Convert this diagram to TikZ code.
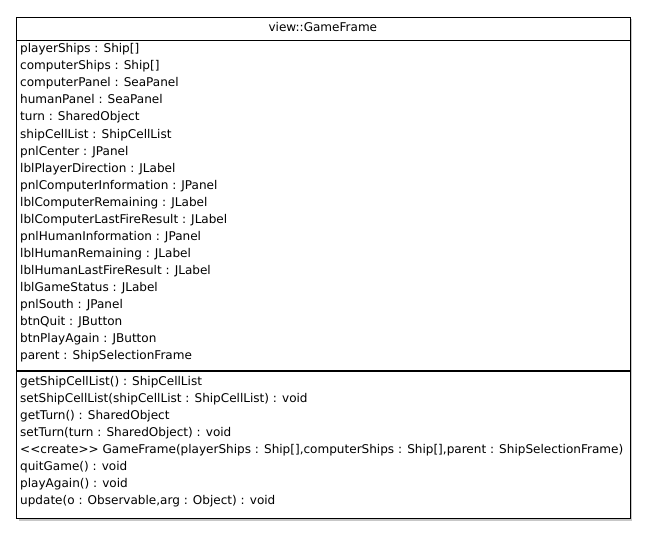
\documentclass[tikz,border=0pt]{standalone}
\usepackage{fontspec}
\setmainfont{DejaVu Sans}
\newlength\reflen
\AtBeginDocument{%
  \settowidth\reflen{\fontsize{10pt}{12pt}\selectfont <{}<create>{}> GameFrame(playerShips : Ship[],computerShips : Ship[],parent : ShipSelectionFrame)}%
  \pgfmathsetmacro\fs{10*603/\reflen}%
  \global\let\fs\fs}
\begin{document}
\begin{tikzpicture}[x=1pt,y=-1pt]
\useasboundingbox (0,0) rectangle (651,539);
\tikzset{
  txt/.style={anchor=base west,inner sep=0pt,font=\fontsize{\fs pt}{\fs pt}\selectfont},
  boxline/.style={line width=1.1pt,black},
  shade/.style={fill=black!22}
}
% shadow
\fill[shade] (18.5,19) rectangle (632,520.5);
\node[draw,boxline,fill=white,anchor=north west,minimum width=613.7pt,minimum height=501pt,inner sep=0pt] (box) at (16,16.7) {};
\coordinate (s1l) at (16,40.3);
\coordinate (s1r) at (629.7,40.3);
\coordinate (s2l) at (16,371);
\coordinate (s2r) at (629.7,371);
\draw[boxline] (s1l) -- (s1r);
\draw[boxline] (s2l) -- (s2r);
\node[txt,anchor=base] (title) at (322.85,31.7) {view::GameFrame};
\foreach \t [count=\i] in {
  playerShips : Ship[],
  computerShips : Ship[],
  computerPanel : SeaPanel,
  humanPanel : SeaPanel,
  turn : SharedObject,
  shipCellList : ShipCellList,
  pnlCenter : JPanel,
  lblPlayerDirection : JLabel,
  pnlComputerInformation : JPanel,
  lblComputerRemaining : JLabel,
  lblComputerLastFireResult : JLabel,
  pnlHumanInformation : JPanel,
  lblHumanRemaining : JLabel,
  lblHumanLastFireResult : JLabel,
  lblGameStatus : JLabel,
  pnlSouth : JPanel,
  btnQuit : JButton,
  btnPlayAgain : JButton,
  parent : ShipSelectionFrame}
  \node[txt] (a\i) at (20,{52.7+(\i-1)*17.07}) {\t};
\foreach \t [count=\i] in {
  getShipCellList() : ShipCellList,
  setShipCellList(shipCellList : ShipCellList) : void,
  getTurn() : SharedObject,
  setTurn(turn : SharedObject) : void,
  {<{}<create>{}> GameFrame(playerShips : Ship[],computerShips : Ship[],parent : ShipSelectionFrame)},
  quitGame() : void,
  playAgain() : void,
  {update(o : Observable,arg : Object) : void}}
  \node[txt] (o\i) at (20,{385.5+(\i-1)*17}) {\t};
\end{tikzpicture}
\end{document}
